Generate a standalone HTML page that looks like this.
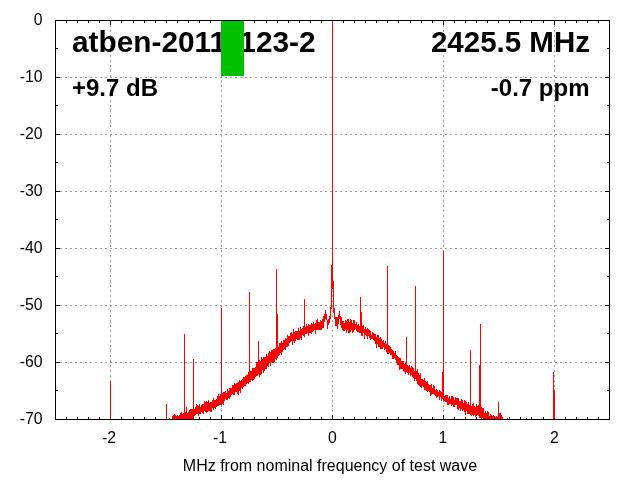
<!DOCTYPE html>
<html><head><meta charset="utf-8"><style>
html,body{margin:0;padding:0;background:#fff;width:640px;height:480px;overflow:hidden}
svg{display:block;position:absolute;left:0;top:0}
text{font-family:"Liberation Sans",sans-serif}
g{will-change:transform}
</style></head><body>
<svg width="640" height="480" viewBox="0 0 640 480" shape-rendering="crispEdges">
<path d="M60 77h2v1h-2zM65 77h2v1h-2zM70 77h2v1h-2zM75 77h2v1h-2zM80 77h2v1h-2zM85 77h2v1h-2zM90 77h2v1h-2zM95 77h2v1h-2zM100 77h2v1h-2zM105 77h2v1h-2zM110 77h2v1h-2zM115 77h2v1h-2zM120 77h2v1h-2zM125 77h2v1h-2zM130 77h2v1h-2zM135 77h2v1h-2zM140 77h2v1h-2zM145 77h2v1h-2zM150 77h2v1h-2zM155 77h2v1h-2zM160 77h2v1h-2zM165 77h2v1h-2zM170 77h2v1h-2zM175 77h2v1h-2zM180 77h2v1h-2zM185 77h2v1h-2zM190 77h2v1h-2zM195 77h2v1h-2zM200 77h2v1h-2zM205 77h2v1h-2zM210 77h2v1h-2zM215 77h2v1h-2zM220 77h2v1h-2zM225 77h2v1h-2zM230 77h2v1h-2zM235 77h2v1h-2zM240 77h2v1h-2zM245 77h2v1h-2zM250 77h2v1h-2zM255 77h2v1h-2zM260 77h2v1h-2zM265 77h2v1h-2zM270 77h2v1h-2zM275 77h2v1h-2zM280 77h2v1h-2zM285 77h2v1h-2zM290 77h2v1h-2zM295 77h2v1h-2zM300 77h2v1h-2zM305 77h2v1h-2zM310 77h2v1h-2zM315 77h2v1h-2zM320 77h2v1h-2zM325 77h2v1h-2zM330 77h2v1h-2zM335 77h2v1h-2zM340 77h2v1h-2zM345 77h2v1h-2zM350 77h2v1h-2zM355 77h2v1h-2zM360 77h2v1h-2zM365 77h2v1h-2zM370 77h2v1h-2zM375 77h2v1h-2zM380 77h2v1h-2zM385 77h2v1h-2zM390 77h2v1h-2zM395 77h2v1h-2zM400 77h2v1h-2zM405 77h2v1h-2zM410 77h2v1h-2zM415 77h2v1h-2zM420 77h2v1h-2zM425 77h2v1h-2zM430 77h2v1h-2zM435 77h2v1h-2zM440 77h2v1h-2zM445 77h2v1h-2zM450 77h2v1h-2zM455 77h2v1h-2zM460 77h2v1h-2zM465 77h2v1h-2zM470 77h2v1h-2zM475 77h2v1h-2zM480 77h2v1h-2zM485 77h2v1h-2zM490 77h2v1h-2zM495 77h2v1h-2zM500 77h2v1h-2zM505 77h2v1h-2zM510 77h2v1h-2zM515 77h2v1h-2zM520 77h2v1h-2zM525 77h2v1h-2zM530 77h2v1h-2zM535 77h2v1h-2zM540 77h2v1h-2zM545 77h2v1h-2zM550 77h2v1h-2zM555 77h2v1h-2zM560 77h2v1h-2zM565 77h2v1h-2zM570 77h2v1h-2zM575 77h2v1h-2zM580 77h2v1h-2zM585 77h2v1h-2zM590 77h2v1h-2zM595 77h2v1h-2zM600 77h2v1h-2zM60 134h2v1h-2zM65 134h2v1h-2zM70 134h2v1h-2zM75 134h2v1h-2zM80 134h2v1h-2zM85 134h2v1h-2zM90 134h2v1h-2zM95 134h2v1h-2zM100 134h2v1h-2zM105 134h2v1h-2zM110 134h2v1h-2zM115 134h2v1h-2zM120 134h2v1h-2zM125 134h2v1h-2zM130 134h2v1h-2zM135 134h2v1h-2zM140 134h2v1h-2zM145 134h2v1h-2zM150 134h2v1h-2zM155 134h2v1h-2zM160 134h2v1h-2zM165 134h2v1h-2zM170 134h2v1h-2zM175 134h2v1h-2zM180 134h2v1h-2zM185 134h2v1h-2zM190 134h2v1h-2zM195 134h2v1h-2zM200 134h2v1h-2zM205 134h2v1h-2zM210 134h2v1h-2zM215 134h2v1h-2zM220 134h2v1h-2zM225 134h2v1h-2zM230 134h2v1h-2zM235 134h2v1h-2zM240 134h2v1h-2zM245 134h2v1h-2zM250 134h2v1h-2zM255 134h2v1h-2zM260 134h2v1h-2zM265 134h2v1h-2zM270 134h2v1h-2zM275 134h2v1h-2zM280 134h2v1h-2zM285 134h2v1h-2zM290 134h2v1h-2zM295 134h2v1h-2zM300 134h2v1h-2zM305 134h2v1h-2zM310 134h2v1h-2zM315 134h2v1h-2zM320 134h2v1h-2zM325 134h2v1h-2zM330 134h2v1h-2zM335 134h2v1h-2zM340 134h2v1h-2zM345 134h2v1h-2zM350 134h2v1h-2zM355 134h2v1h-2zM360 134h2v1h-2zM365 134h2v1h-2zM370 134h2v1h-2zM375 134h2v1h-2zM380 134h2v1h-2zM385 134h2v1h-2zM390 134h2v1h-2zM395 134h2v1h-2zM400 134h2v1h-2zM405 134h2v1h-2zM410 134h2v1h-2zM415 134h2v1h-2zM420 134h2v1h-2zM425 134h2v1h-2zM430 134h2v1h-2zM435 134h2v1h-2zM440 134h2v1h-2zM445 134h2v1h-2zM450 134h2v1h-2zM455 134h2v1h-2zM460 134h2v1h-2zM465 134h2v1h-2zM470 134h2v1h-2zM475 134h2v1h-2zM480 134h2v1h-2zM485 134h2v1h-2zM490 134h2v1h-2zM495 134h2v1h-2zM500 134h2v1h-2zM505 134h2v1h-2zM510 134h2v1h-2zM515 134h2v1h-2zM520 134h2v1h-2zM525 134h2v1h-2zM530 134h2v1h-2zM535 134h2v1h-2zM540 134h2v1h-2zM545 134h2v1h-2zM550 134h2v1h-2zM555 134h2v1h-2zM560 134h2v1h-2zM565 134h2v1h-2zM570 134h2v1h-2zM575 134h2v1h-2zM580 134h2v1h-2zM585 134h2v1h-2zM590 134h2v1h-2zM595 134h2v1h-2zM600 134h2v1h-2zM60 191h2v1h-2zM65 191h2v1h-2zM70 191h2v1h-2zM75 191h2v1h-2zM80 191h2v1h-2zM85 191h2v1h-2zM90 191h2v1h-2zM95 191h2v1h-2zM100 191h2v1h-2zM105 191h2v1h-2zM110 191h2v1h-2zM115 191h2v1h-2zM120 191h2v1h-2zM125 191h2v1h-2zM130 191h2v1h-2zM135 191h2v1h-2zM140 191h2v1h-2zM145 191h2v1h-2zM150 191h2v1h-2zM155 191h2v1h-2zM160 191h2v1h-2zM165 191h2v1h-2zM170 191h2v1h-2zM175 191h2v1h-2zM180 191h2v1h-2zM185 191h2v1h-2zM190 191h2v1h-2zM195 191h2v1h-2zM200 191h2v1h-2zM205 191h2v1h-2zM210 191h2v1h-2zM215 191h2v1h-2zM220 191h2v1h-2zM225 191h2v1h-2zM230 191h2v1h-2zM235 191h2v1h-2zM240 191h2v1h-2zM245 191h2v1h-2zM250 191h2v1h-2zM255 191h2v1h-2zM260 191h2v1h-2zM265 191h2v1h-2zM270 191h2v1h-2zM275 191h2v1h-2zM280 191h2v1h-2zM285 191h2v1h-2zM290 191h2v1h-2zM295 191h2v1h-2zM300 191h2v1h-2zM305 191h2v1h-2zM310 191h2v1h-2zM315 191h2v1h-2zM320 191h2v1h-2zM325 191h2v1h-2zM330 191h2v1h-2zM335 191h2v1h-2zM340 191h2v1h-2zM345 191h2v1h-2zM350 191h2v1h-2zM355 191h2v1h-2zM360 191h2v1h-2zM365 191h2v1h-2zM370 191h2v1h-2zM375 191h2v1h-2zM380 191h2v1h-2zM385 191h2v1h-2zM390 191h2v1h-2zM395 191h2v1h-2zM400 191h2v1h-2zM405 191h2v1h-2zM410 191h2v1h-2zM415 191h2v1h-2zM420 191h2v1h-2zM425 191h2v1h-2zM430 191h2v1h-2zM435 191h2v1h-2zM440 191h2v1h-2zM445 191h2v1h-2zM450 191h2v1h-2zM455 191h2v1h-2zM460 191h2v1h-2zM465 191h2v1h-2zM470 191h2v1h-2zM475 191h2v1h-2zM480 191h2v1h-2zM485 191h2v1h-2zM490 191h2v1h-2zM495 191h2v1h-2zM500 191h2v1h-2zM505 191h2v1h-2zM510 191h2v1h-2zM515 191h2v1h-2zM520 191h2v1h-2zM525 191h2v1h-2zM530 191h2v1h-2zM535 191h2v1h-2zM540 191h2v1h-2zM545 191h2v1h-2zM550 191h2v1h-2zM555 191h2v1h-2zM560 191h2v1h-2zM565 191h2v1h-2zM570 191h2v1h-2zM575 191h2v1h-2zM580 191h2v1h-2zM585 191h2v1h-2zM590 191h2v1h-2zM595 191h2v1h-2zM600 191h2v1h-2zM60 248h2v1h-2zM65 248h2v1h-2zM70 248h2v1h-2zM75 248h2v1h-2zM80 248h2v1h-2zM85 248h2v1h-2zM90 248h2v1h-2zM95 248h2v1h-2zM100 248h2v1h-2zM105 248h2v1h-2zM110 248h2v1h-2zM115 248h2v1h-2zM120 248h2v1h-2zM125 248h2v1h-2zM130 248h2v1h-2zM135 248h2v1h-2zM140 248h2v1h-2zM145 248h2v1h-2zM150 248h2v1h-2zM155 248h2v1h-2zM160 248h2v1h-2zM165 248h2v1h-2zM170 248h2v1h-2zM175 248h2v1h-2zM180 248h2v1h-2zM185 248h2v1h-2zM190 248h2v1h-2zM195 248h2v1h-2zM200 248h2v1h-2zM205 248h2v1h-2zM210 248h2v1h-2zM215 248h2v1h-2zM220 248h2v1h-2zM225 248h2v1h-2zM230 248h2v1h-2zM235 248h2v1h-2zM240 248h2v1h-2zM245 248h2v1h-2zM250 248h2v1h-2zM255 248h2v1h-2zM260 248h2v1h-2zM265 248h2v1h-2zM270 248h2v1h-2zM275 248h2v1h-2zM280 248h2v1h-2zM285 248h2v1h-2zM290 248h2v1h-2zM295 248h2v1h-2zM300 248h2v1h-2zM305 248h2v1h-2zM310 248h2v1h-2zM315 248h2v1h-2zM320 248h2v1h-2zM325 248h2v1h-2zM330 248h2v1h-2zM335 248h2v1h-2zM340 248h2v1h-2zM345 248h2v1h-2zM350 248h2v1h-2zM355 248h2v1h-2zM360 248h2v1h-2zM365 248h2v1h-2zM370 248h2v1h-2zM375 248h2v1h-2zM380 248h2v1h-2zM385 248h2v1h-2zM390 248h2v1h-2zM395 248h2v1h-2zM400 248h2v1h-2zM405 248h2v1h-2zM410 248h2v1h-2zM415 248h2v1h-2zM420 248h2v1h-2zM425 248h2v1h-2zM430 248h2v1h-2zM435 248h2v1h-2zM440 248h2v1h-2zM445 248h2v1h-2zM450 248h2v1h-2zM455 248h2v1h-2zM460 248h2v1h-2zM465 248h2v1h-2zM470 248h2v1h-2zM475 248h2v1h-2zM480 248h2v1h-2zM485 248h2v1h-2zM490 248h2v1h-2zM495 248h2v1h-2zM500 248h2v1h-2zM505 248h2v1h-2zM510 248h2v1h-2zM515 248h2v1h-2zM520 248h2v1h-2zM525 248h2v1h-2zM530 248h2v1h-2zM535 248h2v1h-2zM540 248h2v1h-2zM545 248h2v1h-2zM550 248h2v1h-2zM555 248h2v1h-2zM560 248h2v1h-2zM565 248h2v1h-2zM570 248h2v1h-2zM575 248h2v1h-2zM580 248h2v1h-2zM585 248h2v1h-2zM590 248h2v1h-2zM595 248h2v1h-2zM600 248h2v1h-2zM60 305h2v1h-2zM65 305h2v1h-2zM70 305h2v1h-2zM75 305h2v1h-2zM80 305h2v1h-2zM85 305h2v1h-2zM90 305h2v1h-2zM95 305h2v1h-2zM100 305h2v1h-2zM105 305h2v1h-2zM110 305h2v1h-2zM115 305h2v1h-2zM120 305h2v1h-2zM125 305h2v1h-2zM130 305h2v1h-2zM135 305h2v1h-2zM140 305h2v1h-2zM145 305h2v1h-2zM150 305h2v1h-2zM155 305h2v1h-2zM160 305h2v1h-2zM165 305h2v1h-2zM170 305h2v1h-2zM175 305h2v1h-2zM180 305h2v1h-2zM185 305h2v1h-2zM190 305h2v1h-2zM195 305h2v1h-2zM200 305h2v1h-2zM205 305h2v1h-2zM210 305h2v1h-2zM215 305h2v1h-2zM220 305h2v1h-2zM225 305h2v1h-2zM230 305h2v1h-2zM235 305h2v1h-2zM240 305h2v1h-2zM245 305h2v1h-2zM250 305h2v1h-2zM255 305h2v1h-2zM260 305h2v1h-2zM265 305h2v1h-2zM270 305h2v1h-2zM275 305h2v1h-2zM280 305h2v1h-2zM285 305h2v1h-2zM290 305h2v1h-2zM295 305h2v1h-2zM300 305h2v1h-2zM305 305h2v1h-2zM310 305h2v1h-2zM315 305h2v1h-2zM320 305h2v1h-2zM325 305h2v1h-2zM330 305h2v1h-2zM335 305h2v1h-2zM340 305h2v1h-2zM345 305h2v1h-2zM350 305h2v1h-2zM355 305h2v1h-2zM360 305h2v1h-2zM365 305h2v1h-2zM370 305h2v1h-2zM375 305h2v1h-2zM380 305h2v1h-2zM385 305h2v1h-2zM390 305h2v1h-2zM395 305h2v1h-2zM400 305h2v1h-2zM405 305h2v1h-2zM410 305h2v1h-2zM415 305h2v1h-2zM420 305h2v1h-2zM425 305h2v1h-2zM430 305h2v1h-2zM435 305h2v1h-2zM440 305h2v1h-2zM445 305h2v1h-2zM450 305h2v1h-2zM455 305h2v1h-2zM460 305h2v1h-2zM465 305h2v1h-2zM470 305h2v1h-2zM475 305h2v1h-2zM480 305h2v1h-2zM485 305h2v1h-2zM490 305h2v1h-2zM495 305h2v1h-2zM500 305h2v1h-2zM505 305h2v1h-2zM510 305h2v1h-2zM515 305h2v1h-2zM520 305h2v1h-2zM525 305h2v1h-2zM530 305h2v1h-2zM535 305h2v1h-2zM540 305h2v1h-2zM545 305h2v1h-2zM550 305h2v1h-2zM555 305h2v1h-2zM560 305h2v1h-2zM565 305h2v1h-2zM570 305h2v1h-2zM575 305h2v1h-2zM580 305h2v1h-2zM585 305h2v1h-2zM590 305h2v1h-2zM595 305h2v1h-2zM600 305h2v1h-2zM60 362h2v1h-2zM65 362h2v1h-2zM70 362h2v1h-2zM75 362h2v1h-2zM80 362h2v1h-2zM85 362h2v1h-2zM90 362h2v1h-2zM95 362h2v1h-2zM100 362h2v1h-2zM105 362h2v1h-2zM110 362h2v1h-2zM115 362h2v1h-2zM120 362h2v1h-2zM125 362h2v1h-2zM130 362h2v1h-2zM135 362h2v1h-2zM140 362h2v1h-2zM145 362h2v1h-2zM150 362h2v1h-2zM155 362h2v1h-2zM160 362h2v1h-2zM165 362h2v1h-2zM170 362h2v1h-2zM175 362h2v1h-2zM180 362h2v1h-2zM185 362h2v1h-2zM190 362h2v1h-2zM195 362h2v1h-2zM200 362h2v1h-2zM205 362h2v1h-2zM210 362h2v1h-2zM215 362h2v1h-2zM220 362h2v1h-2zM225 362h2v1h-2zM230 362h2v1h-2zM235 362h2v1h-2zM240 362h2v1h-2zM245 362h2v1h-2zM250 362h2v1h-2zM255 362h2v1h-2zM260 362h2v1h-2zM265 362h2v1h-2zM270 362h2v1h-2zM275 362h2v1h-2zM280 362h2v1h-2zM285 362h2v1h-2zM290 362h2v1h-2zM295 362h2v1h-2zM300 362h2v1h-2zM305 362h2v1h-2zM310 362h2v1h-2zM315 362h2v1h-2zM320 362h2v1h-2zM325 362h2v1h-2zM330 362h2v1h-2zM335 362h2v1h-2zM340 362h2v1h-2zM345 362h2v1h-2zM350 362h2v1h-2zM355 362h2v1h-2zM360 362h2v1h-2zM365 362h2v1h-2zM370 362h2v1h-2zM375 362h2v1h-2zM380 362h2v1h-2zM385 362h2v1h-2zM390 362h2v1h-2zM395 362h2v1h-2zM400 362h2v1h-2zM405 362h2v1h-2zM410 362h2v1h-2zM415 362h2v1h-2zM420 362h2v1h-2zM425 362h2v1h-2zM430 362h2v1h-2zM435 362h2v1h-2zM440 362h2v1h-2zM445 362h2v1h-2zM450 362h2v1h-2zM455 362h2v1h-2zM460 362h2v1h-2zM465 362h2v1h-2zM470 362h2v1h-2zM475 362h2v1h-2zM480 362h2v1h-2zM485 362h2v1h-2zM490 362h2v1h-2zM495 362h2v1h-2zM500 362h2v1h-2zM505 362h2v1h-2zM510 362h2v1h-2zM515 362h2v1h-2zM520 362h2v1h-2zM525 362h2v1h-2zM530 362h2v1h-2zM535 362h2v1h-2zM540 362h2v1h-2zM545 362h2v1h-2zM550 362h2v1h-2zM555 362h2v1h-2zM560 362h2v1h-2zM565 362h2v1h-2zM570 362h2v1h-2zM575 362h2v1h-2zM580 362h2v1h-2zM585 362h2v1h-2zM590 362h2v1h-2zM595 362h2v1h-2zM600 362h2v1h-2zM110 25h1v2h-1zM110 30h1v2h-1zM110 35h1v2h-1zM110 40h1v2h-1zM110 45h1v2h-1zM110 50h1v2h-1zM110 55h1v2h-1zM110 60h1v2h-1zM110 65h1v2h-1zM110 70h1v2h-1zM110 75h1v2h-1zM110 80h1v2h-1zM110 85h1v2h-1zM110 90h1v2h-1zM110 95h1v2h-1zM110 100h1v2h-1zM110 105h1v2h-1zM110 110h1v2h-1zM110 115h1v2h-1zM110 120h1v2h-1zM110 125h1v2h-1zM110 130h1v2h-1zM110 135h1v2h-1zM110 140h1v2h-1zM110 145h1v2h-1zM110 150h1v2h-1zM110 155h1v2h-1zM110 160h1v2h-1zM110 165h1v2h-1zM110 170h1v2h-1zM110 175h1v2h-1zM110 180h1v2h-1zM110 185h1v2h-1zM110 190h1v2h-1zM110 195h1v2h-1zM110 200h1v2h-1zM110 205h1v2h-1zM110 210h1v2h-1zM110 215h1v2h-1zM110 220h1v2h-1zM110 225h1v2h-1zM110 230h1v2h-1zM110 235h1v2h-1zM110 240h1v2h-1zM110 245h1v2h-1zM110 250h1v2h-1zM110 255h1v2h-1zM110 260h1v2h-1zM110 265h1v2h-1zM110 270h1v2h-1zM110 275h1v2h-1zM110 280h1v2h-1zM110 285h1v2h-1zM110 290h1v2h-1zM110 295h1v2h-1zM110 300h1v2h-1zM110 305h1v2h-1zM110 310h1v2h-1zM110 315h1v2h-1zM110 320h1v2h-1zM110 325h1v2h-1zM110 330h1v2h-1zM110 335h1v2h-1zM110 340h1v2h-1zM110 345h1v2h-1zM110 350h1v2h-1zM110 355h1v2h-1zM110 360h1v2h-1zM110 365h1v2h-1zM110 370h1v2h-1zM110 375h1v2h-1zM110 380h1v2h-1zM110 385h1v2h-1zM110 390h1v2h-1zM110 395h1v2h-1zM110 400h1v2h-1zM110 405h1v2h-1zM110 410h1v2h-1zM221 25h1v2h-1zM221 30h1v2h-1zM221 35h1v2h-1zM221 40h1v2h-1zM221 45h1v2h-1zM221 50h1v2h-1zM221 55h1v2h-1zM221 60h1v2h-1zM221 65h1v2h-1zM221 70h1v2h-1zM221 75h1v2h-1zM221 80h1v2h-1zM221 85h1v2h-1zM221 90h1v2h-1zM221 95h1v2h-1zM221 100h1v2h-1zM221 105h1v2h-1zM221 110h1v2h-1zM221 115h1v2h-1zM221 120h1v2h-1zM221 125h1v2h-1zM221 130h1v2h-1zM221 135h1v2h-1zM221 140h1v2h-1zM221 145h1v2h-1zM221 150h1v2h-1zM221 155h1v2h-1zM221 160h1v2h-1zM221 165h1v2h-1zM221 170h1v2h-1zM221 175h1v2h-1zM221 180h1v2h-1zM221 185h1v2h-1zM221 190h1v2h-1zM221 195h1v2h-1zM221 200h1v2h-1zM221 205h1v2h-1zM221 210h1v2h-1zM221 215h1v2h-1zM221 220h1v2h-1zM221 225h1v2h-1zM221 230h1v2h-1zM221 235h1v2h-1zM221 240h1v2h-1zM221 245h1v2h-1zM221 250h1v2h-1zM221 255h1v2h-1zM221 260h1v2h-1zM221 265h1v2h-1zM221 270h1v2h-1zM221 275h1v2h-1zM221 280h1v2h-1zM221 285h1v2h-1zM221 290h1v2h-1zM221 295h1v2h-1zM221 300h1v2h-1zM221 305h1v2h-1zM221 310h1v2h-1zM221 315h1v2h-1zM221 320h1v2h-1zM221 325h1v2h-1zM221 330h1v2h-1zM221 335h1v2h-1zM221 340h1v2h-1zM221 345h1v2h-1zM221 350h1v2h-1zM221 355h1v2h-1zM221 360h1v2h-1zM221 365h1v2h-1zM221 370h1v2h-1zM221 375h1v2h-1zM221 380h1v2h-1zM221 385h1v2h-1zM221 390h1v2h-1zM221 395h1v2h-1zM221 400h1v2h-1zM221 405h1v2h-1zM221 410h1v2h-1zM332 25h1v2h-1zM332 30h1v2h-1zM332 35h1v2h-1zM332 40h1v2h-1zM332 45h1v2h-1zM332 50h1v2h-1zM332 55h1v2h-1zM332 60h1v2h-1zM332 65h1v2h-1zM332 70h1v2h-1zM332 75h1v2h-1zM332 80h1v2h-1zM332 85h1v2h-1zM332 90h1v2h-1zM332 95h1v2h-1zM332 100h1v2h-1zM332 105h1v2h-1zM332 110h1v2h-1zM332 115h1v2h-1zM332 120h1v2h-1zM332 125h1v2h-1zM332 130h1v2h-1zM332 135h1v2h-1zM332 140h1v2h-1zM332 145h1v2h-1zM332 150h1v2h-1zM332 155h1v2h-1zM332 160h1v2h-1zM332 165h1v2h-1zM332 170h1v2h-1zM332 175h1v2h-1zM332 180h1v2h-1zM332 185h1v2h-1zM332 190h1v2h-1zM332 195h1v2h-1zM332 200h1v2h-1zM332 205h1v2h-1zM332 210h1v2h-1zM332 215h1v2h-1zM332 220h1v2h-1zM332 225h1v2h-1zM332 230h1v2h-1zM332 235h1v2h-1zM332 240h1v2h-1zM332 245h1v2h-1zM332 250h1v2h-1zM332 255h1v2h-1zM332 260h1v2h-1zM332 265h1v2h-1zM332 270h1v2h-1zM332 275h1v2h-1zM332 280h1v2h-1zM332 285h1v2h-1zM332 290h1v2h-1zM332 295h1v2h-1zM332 300h1v2h-1zM332 305h1v2h-1zM332 310h1v2h-1zM332 315h1v2h-1zM332 320h1v2h-1zM332 325h1v2h-1zM332 330h1v2h-1zM332 335h1v2h-1zM332 340h1v2h-1zM332 345h1v2h-1zM332 350h1v2h-1zM332 355h1v2h-1zM332 360h1v2h-1zM332 365h1v2h-1zM332 370h1v2h-1zM332 375h1v2h-1zM332 380h1v2h-1zM332 385h1v2h-1zM332 390h1v2h-1zM332 395h1v2h-1zM332 400h1v2h-1zM332 405h1v2h-1zM332 410h1v2h-1zM443 25h1v2h-1zM443 30h1v2h-1zM443 35h1v2h-1zM443 40h1v2h-1zM443 45h1v2h-1zM443 50h1v2h-1zM443 55h1v2h-1zM443 60h1v2h-1zM443 65h1v2h-1zM443 70h1v2h-1zM443 75h1v2h-1zM443 80h1v2h-1zM443 85h1v2h-1zM443 90h1v2h-1zM443 95h1v2h-1zM443 100h1v2h-1zM443 105h1v2h-1zM443 110h1v2h-1zM443 115h1v2h-1zM443 120h1v2h-1zM443 125h1v2h-1zM443 130h1v2h-1zM443 135h1v2h-1zM443 140h1v2h-1zM443 145h1v2h-1zM443 150h1v2h-1zM443 155h1v2h-1zM443 160h1v2h-1zM443 165h1v2h-1zM443 170h1v2h-1zM443 175h1v2h-1zM443 180h1v2h-1zM443 185h1v2h-1zM443 190h1v2h-1zM443 195h1v2h-1zM443 200h1v2h-1zM443 205h1v2h-1zM443 210h1v2h-1zM443 215h1v2h-1zM443 220h1v2h-1zM443 225h1v2h-1zM443 230h1v2h-1zM443 235h1v2h-1zM443 240h1v2h-1zM443 245h1v2h-1zM443 250h1v2h-1zM443 255h1v2h-1zM443 260h1v2h-1zM443 265h1v2h-1zM443 270h1v2h-1zM443 275h1v2h-1zM443 280h1v2h-1zM443 285h1v2h-1zM443 290h1v2h-1zM443 295h1v2h-1zM443 300h1v2h-1zM443 305h1v2h-1zM443 310h1v2h-1zM443 315h1v2h-1zM443 320h1v2h-1zM443 325h1v2h-1zM443 330h1v2h-1zM443 335h1v2h-1zM443 340h1v2h-1zM443 345h1v2h-1zM443 350h1v2h-1zM443 355h1v2h-1zM443 360h1v2h-1zM443 365h1v2h-1zM443 370h1v2h-1zM443 375h1v2h-1zM443 380h1v2h-1zM443 385h1v2h-1zM443 390h1v2h-1zM443 395h1v2h-1zM443 400h1v2h-1zM443 405h1v2h-1zM443 410h1v2h-1zM554 25h1v2h-1zM554 30h1v2h-1zM554 35h1v2h-1zM554 40h1v2h-1zM554 45h1v2h-1zM554 50h1v2h-1zM554 55h1v2h-1zM554 60h1v2h-1zM554 65h1v2h-1zM554 70h1v2h-1zM554 75h1v2h-1zM554 80h1v2h-1zM554 85h1v2h-1zM554 90h1v2h-1zM554 95h1v2h-1zM554 100h1v2h-1zM554 105h1v2h-1zM554 110h1v2h-1zM554 115h1v2h-1zM554 120h1v2h-1zM554 125h1v2h-1zM554 130h1v2h-1zM554 135h1v2h-1zM554 140h1v2h-1zM554 145h1v2h-1zM554 150h1v2h-1zM554 155h1v2h-1zM554 160h1v2h-1zM554 165h1v2h-1zM554 170h1v2h-1zM554 175h1v2h-1zM554 180h1v2h-1zM554 185h1v2h-1zM554 190h1v2h-1zM554 195h1v2h-1zM554 200h1v2h-1zM554 205h1v2h-1zM554 210h1v2h-1zM554 215h1v2h-1zM554 220h1v2h-1zM554 225h1v2h-1zM554 230h1v2h-1zM554 235h1v2h-1zM554 240h1v2h-1zM554 245h1v2h-1zM554 250h1v2h-1zM554 255h1v2h-1zM554 260h1v2h-1zM554 265h1v2h-1zM554 270h1v2h-1zM554 275h1v2h-1zM554 280h1v2h-1zM554 285h1v2h-1zM554 290h1v2h-1zM554 295h1v2h-1zM554 300h1v2h-1zM554 305h1v2h-1zM554 310h1v2h-1zM554 315h1v2h-1zM554 320h1v2h-1zM554 325h1v2h-1zM554 330h1v2h-1zM554 335h1v2h-1zM554 340h1v2h-1zM554 345h1v2h-1zM554 350h1v2h-1zM554 355h1v2h-1zM554 360h1v2h-1zM554 365h1v2h-1zM554 370h1v2h-1zM554 375h1v2h-1zM554 380h1v2h-1zM554 385h1v2h-1zM554 390h1v2h-1zM554 395h1v2h-1zM554 400h1v2h-1zM554 405h1v2h-1zM554 410h1v2h-1z" fill="#a0a0a0"/>
<path d="M55 77h5v1h-5zM605 77h5v1h-5zM55 134h5v1h-5zM605 134h5v1h-5zM55 191h5v1h-5zM605 191h5v1h-5zM55 248h5v1h-5zM605 248h5v1h-5zM55 305h5v1h-5zM605 305h5v1h-5zM55 362h5v1h-5zM605 362h5v1h-5zM55 48h3v1h-3zM607 48h3v1h-3zM55 105h3v1h-3zM607 105h3v1h-3zM55 162h3v1h-3zM607 162h3v1h-3zM55 219h3v1h-3zM607 219h3v1h-3zM55 276h3v1h-3zM607 276h3v1h-3zM55 333h3v1h-3zM607 333h3v1h-3zM55 390h3v1h-3zM607 390h3v1h-3zM66 20h1v3h-1zM66 417h1v3h-1zM77 20h1v3h-1zM77 417h1v3h-1zM88 20h1v3h-1zM88 417h1v3h-1zM99 20h1v3h-1zM99 417h1v3h-1zM110 20h1v5h-1zM110 415h1v5h-1zM121 20h1v3h-1zM121 417h1v3h-1zM133 20h1v3h-1zM133 417h1v3h-1zM144 20h1v3h-1zM144 417h1v3h-1zM155 20h1v3h-1zM155 417h1v3h-1zM166 20h1v3h-1zM166 417h1v3h-1zM177 20h1v3h-1zM177 417h1v3h-1zM188 20h1v3h-1zM188 417h1v3h-1zM199 20h1v3h-1zM199 417h1v3h-1zM210 20h1v3h-1zM210 417h1v3h-1zM221 20h1v5h-1zM221 415h1v5h-1zM232 20h1v3h-1zM232 417h1v3h-1zM243 20h1v3h-1zM243 417h1v3h-1zM254 20h1v3h-1zM254 417h1v3h-1zM266 20h1v3h-1zM266 417h1v3h-1zM277 20h1v3h-1zM277 417h1v3h-1zM288 20h1v3h-1zM288 417h1v3h-1zM299 20h1v3h-1zM299 417h1v3h-1zM310 20h1v3h-1zM310 417h1v3h-1zM321 20h1v3h-1zM321 417h1v3h-1zM332 20h1v5h-1zM332 415h1v5h-1zM343 20h1v3h-1zM343 417h1v3h-1zM354 20h1v3h-1zM354 417h1v3h-1zM365 20h1v3h-1zM365 417h1v3h-1zM376 20h1v3h-1zM376 417h1v3h-1zM387 20h1v3h-1zM387 417h1v3h-1zM398 20h1v3h-1zM398 417h1v3h-1zM410 20h1v3h-1zM410 417h1v3h-1zM421 20h1v3h-1zM421 417h1v3h-1zM432 20h1v3h-1zM432 417h1v3h-1zM443 20h1v5h-1zM443 415h1v5h-1zM454 20h1v3h-1zM454 417h1v3h-1zM465 20h1v3h-1zM465 417h1v3h-1zM476 20h1v3h-1zM476 417h1v3h-1zM487 20h1v3h-1zM487 417h1v3h-1zM498 20h1v3h-1zM498 417h1v3h-1zM509 20h1v3h-1zM509 417h1v3h-1zM520 20h1v3h-1zM520 417h1v3h-1zM531 20h1v3h-1zM531 417h1v3h-1zM543 20h1v3h-1zM543 417h1v3h-1zM554 20h1v5h-1zM554 415h1v5h-1zM565 20h1v3h-1zM565 417h1v3h-1zM576 20h1v3h-1zM576 417h1v3h-1zM587 20h1v3h-1zM587 417h1v3h-1zM598 20h1v3h-1zM598 417h1v3h-1z" fill="#000"/>
<path d="M110 381h1V420h-1zM166 404h1V420h-1zM169 418h1V420h-1zM172 416h1V420h-1zM173 415h1V420h-1zM174 414h1V420h-1zM175 415h1V420h-1zM176 416h1V420h-1zM177 415h1V420h-1zM178 416h1V420h-1zM179 415h1V420h-1zM180 413h1V420h-1zM181 412h1V420h-1zM182 414h1V420h-1zM183 413h1V420h-1zM184 334h1V420h-1zM185 412h1V420h-1zM186 407h1V420h-1zM187 413h1V420h-1zM188 412h1V420h-1zM189 410h1V420h-1zM190 409h1V420h-1zM191 409h1V420h-1zM192 409h1V420h-1zM193 359h1V420h-1zM194 409h1V416h-1zM195 407h1V415h-1zM196 404h1V414h-1zM197 405h1V414h-1zM198 406h1V416h-1zM199 404h1V414h-1zM200 407h1V414h-1zM201 405h1V412h-1zM202 404h1V413h-1zM203 404h1V414h-1zM204 401h1V411h-1zM205 402h1V412h-1zM206 401h1V413h-1zM207 402h1V412h-1zM208 400h1V411h-1zM209 403h1V411h-1zM210 402h1V412h-1zM211 402h1V412h-1zM212 400h1V408h-1zM213 398h1V410h-1zM214 400h1V408h-1zM215 400h1V409h-1zM216 399h1V407h-1zM217 396h1V406h-1zM218 394h1V406h-1zM219 396h1V405h-1zM220 394h1V405h-1zM221 308h1V405h-1zM222 393h1V404h-1zM223 392h1V405h-1zM224 392h1V401h-1zM225 391h1V399h-1zM226 393h1V400h-1zM227 389h1V400h-1zM228 391h1V398h-1zM229 388h1V399h-1zM230 388h1V397h-1zM231 388h1V395h-1zM232 385h1V394h-1zM233 385h1V395h-1zM234 383h1V395h-1zM235 384h1V392h-1zM236 383h1V392h-1zM237 383h1V394h-1zM238 382h1V395h-1zM239 380h1V391h-1zM240 381h1V393h-1zM241 380h1V388h-1zM242 379h1V389h-1zM243 377h1V387h-1zM244 377h1V386h-1zM245 376h1V386h-1zM246 375h1V384h-1zM247 375h1V383h-1zM248 372h1V384h-1zM249 292h1V382h-1zM250 371h1V382h-1zM251 371h1V380h-1zM252 368h1V381h-1zM253 368h1V380h-1zM254 368h1V379h-1zM255 367h1V377h-1zM256 362h1V376h-1zM257 362h1V376h-1zM258 341h1V374h-1zM259 360h1V377h-1zM260 361h1V375h-1zM261 357h1V374h-1zM262 359h1V370h-1zM263 357h1V373h-1zM264 357h1V371h-1zM265 357h1V369h-1zM266 354h1V369h-1zM267 356h1V366h-1zM268 353h1V367h-1zM269 351h1V363h-1zM270 352h1V366h-1zM271 350h1V362h-1zM272 350h1V363h-1zM273 349h1V363h-1zM274 349h1V362h-1zM275 348h1V359h-1zM276 269h1V360h-1zM277 314h1V358h-1zM278 347h1V356h-1zM279 343h1V355h-1zM280 343h1V353h-1zM281 341h1V355h-1zM282 343h1V352h-1zM283 340h1V350h-1zM284 340h1V349h-1zM285 338h1V350h-1zM286 339h1V347h-1zM287 335h1V347h-1zM288 336h1V346h-1zM289 336h1V343h-1zM290 333h1V342h-1zM291 332h1V341h-1zM292 334h1V345h-1zM293 329h1V341h-1zM294 332h1V343h-1zM295 331h1V341h-1zM296 331h1V339h-1zM297 331h1V340h-1zM298 328h1V340h-1zM299 331h1V340h-1zM300 327h1V338h-1zM301 329h1V340h-1zM302 328h1V335h-1zM303 326h1V336h-1zM304 299h1V337h-1zM305 327h1V334h-1zM306 324h1V334h-1zM307 326h1V333h-1zM308 324h1V336h-1zM309 325h1V333h-1zM310 325h1V333h-1zM311 323h1V334h-1zM312 324h1V332h-1zM313 322h1V331h-1zM314 324h1V330h-1zM315 323h1V334h-1zM316 320h1V330h-1zM317 319h1V330h-1zM318 322h1V330h-1zM319 322h1V330h-1zM320 320h1V330h-1zM321 321h1V330h-1zM322 319h1V328h-1zM323 316h1V328h-1zM324 314h1V322h-1zM325 310h1V319h-1zM326 314h1V320h-1zM327 320h1V329h-1zM328 319h1V325h-1zM329 316h1V323h-1zM330 307h1V319h-1zM331 265h1V309h-1zM332 21h1V289h-1zM333 281h1V313h-1zM334 308h1V319h-1zM335 317h1V326h-1zM336 317h1V326h-1zM337 317h1V329h-1zM338 315h1V324h-1zM339 311h1V319h-1zM340 316h1V325h-1zM341 317h1V328h-1zM342 321h1V330h-1zM343 321h1V331h-1zM344 323h1V331h-1zM345 320h1V330h-1zM346 321h1V333h-1zM347 319h1V330h-1zM348 319h1V333h-1zM349 322h1V333h-1zM350 319h1V332h-1zM351 320h1V330h-1zM352 323h1V333h-1zM353 320h1V332h-1zM354 320h1V330h-1zM355 324h1V329h-1zM356 322h1V331h-1zM357 325h1V332h-1zM358 324h1V332h-1zM359 326h1V333h-1zM360 297h1V333h-1zM361 312h1V336h-1zM362 326h1V336h-1zM363 325h1V333h-1zM364 329h1V339h-1zM365 327h1V335h-1zM366 329h1V336h-1zM367 328h1V339h-1zM368 329h1V336h-1zM369 330h1V338h-1zM370 331h1V340h-1zM371 335h1V339h-1zM372 332h1V339h-1zM373 333h1V340h-1zM374 334h1V341h-1zM375 334h1V344h-1zM376 337h1V348h-1zM377 335h1V344h-1zM378 335h1V347h-1zM379 338h1V347h-1zM380 337h1V349h-1zM381 339h1V349h-1zM382 341h1V349h-1zM383 340h1V347h-1zM384 343h1V350h-1zM385 341h1V349h-1zM386 344h1V352h-1zM387 266h1V354h-1zM388 345h1V354h-1zM389 346h1V353h-1zM390 347h1V355h-1zM391 349h1V355h-1zM392 350h1V359h-1zM393 351h1V359h-1zM394 353h1V358h-1zM395 351h1V360h-1zM396 355h1V363h-1zM397 356h1V365h-1zM398 357h1V365h-1zM399 358h1V370h-1zM400 358h1V369h-1zM401 361h1V369h-1zM402 361h1V369h-1zM403 361h1V371h-1zM404 364h1V372h-1zM405 363h1V374h-1zM406 337h1V372h-1zM407 365h1V373h-1zM408 366h1V375h-1zM409 365h1V373h-1zM410 368h1V376h-1zM411 366h1V375h-1zM412 367h1V377h-1zM413 368h1V378h-1zM414 371h1V381h-1zM415 286h1V379h-1zM416 371h1V381h-1zM417 369h1V384h-1zM418 373h1V385h-1zM419 375h1V386h-1zM420 373h1V387h-1zM421 379h1V388h-1zM422 379h1V386h-1zM423 380h1V387h-1zM424 378h1V390h-1zM425 381h1V390h-1zM426 382h1V391h-1zM427 381h1V392h-1zM428 384h1V391h-1zM429 385h1V392h-1zM430 385h1V396h-1zM431 384h1V395h-1zM432 388h1V394h-1zM433 385h1V394h-1zM434 386h1V395h-1zM435 390h1V396h-1zM436 389h1V398h-1zM437 390h1V397h-1zM438 392h1V396h-1zM439 390h1V400h-1zM440 391h1V397h-1zM441 392h1V401h-1zM442 372h1V399h-1zM443 251h1V401h-1zM444 396h1V401h-1zM445 395h1V402h-1zM446 395h1V402h-1zM447 395h1V405h-1zM448 398h1V405h-1zM449 396h1V404h-1zM450 399h1V404h-1zM451 396h1V406h-1zM452 396h1V405h-1zM453 397h1V407h-1zM454 400h1V407h-1zM455 397h1V405h-1zM456 398h1V405h-1zM457 398h1V409h-1zM458 398h1V410h-1zM459 401h1V408h-1zM460 401h1V411h-1zM461 399h1V409h-1zM462 400h1V411h-1zM463 403h1V410h-1zM464 400h1V412h-1zM465 401h1V415h-1zM466 402h1V411h-1zM467 404h1V414h-1zM468 402h1V414h-1zM469 405h1V414h-1zM470 350h1V415h-1zM471 406h1V416h-1zM472 404h1V415h-1zM473 403h1V416h-1zM474 406h1V415h-1zM475 407h1V417h-1zM476 404h1V416h-1zM477 406h1V415h-1zM478 405h1V416h-1zM479 365h1V418h-1zM480 324h1V418h-1zM481 407h1V419h-1zM482 408h1V418h-1zM483 408h1V419h-1zM484 413h1V420h-1zM485 411h1V420h-1zM486 413h1V420h-1zM487 411h1V420h-1zM488 412h1V420h-1zM489 416h1V420h-1zM490 414h1V420h-1zM491 415h1V420h-1zM492 416h1V420h-1zM493 415h1V420h-1zM494 416h1V420h-1zM495 417h1V420h-1zM496 416h1V420h-1zM497 417h1V420h-1zM498 402h1V420h-1zM499 413h1V420h-1zM500 413h1V420h-1zM501 415h1V420h-1zM502 417h1V420h-1zM507 418h1V420h-1zM509 418h1V420h-1zM526 418h1V420h-1zM553 372h1V420h-1zM554 390h1V420h-1z" fill="#f00"/>
<path d="M55 20h555v1h-555zM55 419h555v1h-555zM55 20h1v400h-1zM609 20h1v400h-1z" fill="#000"/>
<g font-size="15.8" fill="#000" text-anchor="end">
<text x="42.5" y="25">0</text><text x="42.5" y="82">-10</text><text x="42.5" y="139">-20</text><text x="42.5" y="196">-30</text><text x="42.5" y="253">-40</text><text x="42.5" y="310">-50</text><text x="42.5" y="367">-60</text><text x="42.5" y="424">-70</text>
</g>
<g font-size="15.8" fill="#000" text-anchor="middle">
<text x="109" y="443">-2</text>
<text x="220" y="443">-1</text>
<text x="332.5" y="443">0</text>
<text x="443" y="443">1</text>
<text x="554.5" y="443">2</text>
<text x="330" y="471" font-size="16">MHz from nominal frequency of test wave</text>
</g>
<g font-weight="bold" fill="#000">
<text x="72" y="52" font-size="29.8">atben-20111123-2</text>
<text x="590" y="52" text-anchor="end" font-size="29.5">2425.5 MHz</text>
</g>
<g font-size="24" font-weight="bold" fill="#000">
<text x="72" y="96">+9.7 dB</text>
<text x="589.5" y="96" text-anchor="end">-0.7 ppm</text>
</g>
<rect x="221" y="21" width="23" height="55" fill="#00c000"/>
</svg>
</body></html>
